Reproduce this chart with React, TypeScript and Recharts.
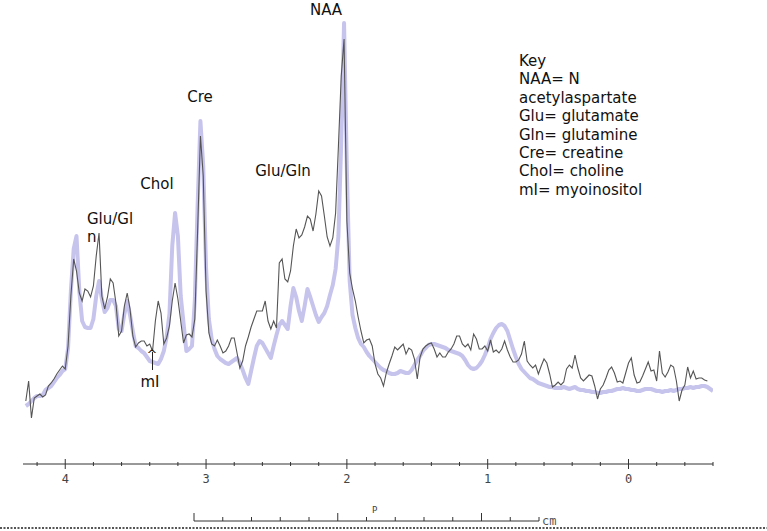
import { LineChart, Line, XAxis, YAxis } from "recharts";

// chemical shift grid (ppm)
const ppm = [
  4.28, 4.26, 4.24, 4.22, 4.2, 4.18, 4.16, 4.14, 4.12, 4.1,
  4.08, 4.06, 4.04, 4.02, 4.0, 3.98, 3.96, 3.94, 3.92, 3.9,
  3.88, 3.86, 3.84, 3.82, 3.8, 3.78, 3.76, 3.74, 3.72, 3.7,
  3.68, 3.66, 3.64, 3.62, 3.6, 3.58, 3.56, 3.54, 3.52, 3.5,
  3.48, 3.46, 3.44, 3.42, 3.4, 3.38, 3.36, 3.34, 3.32, 3.3,
  3.28, 3.26, 3.24, 3.22, 3.2, 3.18, 3.16, 3.14, 3.12, 3.1,
  3.08, 3.06, 3.04, 3.02, 3.0, 2.98, 2.96, 2.94, 2.92, 2.9,
  2.88, 2.86, 2.84, 2.82, 2.8, 2.78, 2.76, 2.74, 2.72, 2.7,
  2.68, 2.66, 2.64, 2.62, 2.6, 2.58, 2.56, 2.54, 2.52, 2.5,
  2.48, 2.46, 2.44, 2.42, 2.4, 2.38, 2.36, 2.34, 2.32, 2.3,
  2.28, 2.26, 2.24, 2.22, 2.2, 2.18, 2.16, 2.14, 2.12, 2.1,
  2.08, 2.06, 2.04, 2.02, 2.0, 1.98, 1.96, 1.94, 1.92, 1.9,
  1.88, 1.86, 1.84, 1.82, 1.8, 1.78, 1.76, 1.74, 1.72, 1.7,
  1.68, 1.66, 1.64, 1.62, 1.6, 1.58, 1.56, 1.54, 1.52, 1.5,
  1.48, 1.46, 1.44, 1.42, 1.4, 1.38, 1.36, 1.34, 1.32, 1.3,
  1.28, 1.26, 1.24, 1.22, 1.2, 1.18, 1.16, 1.14, 1.12, 1.1,
  1.08, 1.06, 1.04, 1.02, 1.0, 0.98, 0.96, 0.94, 0.92, 0.9,
  0.88, 0.86, 0.84, 0.82, 0.8, 0.78, 0.76, 0.74, 0.72, 0.7,
  0.68, 0.66, 0.64, 0.62, 0.6, 0.58, 0.56, 0.54, 0.52, 0.5,
  0.48, 0.46, 0.44, 0.42, 0.4, 0.38, 0.36, 0.34, 0.32, 0.3,
  0.28, 0.26, 0.24, 0.22, 0.2, 0.18, 0.16, 0.14, 0.12, 0.1,
  0.08, 0.06, 0.04, 0.02, 0, -0.02, -0.04, -0.06, -0.08, -0.1,
  -0.12, -0.14, -0.16, -0.18, -0.2, -0.22, -0.24, -0.26, -0.28, -0.3,
  -0.32, -0.34, -0.36, -0.38, -0.4, -0.42, -0.44, -0.46, -0.48, -0.5,
  -0.52, -0.54, -0.56, -0.58, -0.6,
];

// noisy patient spectrum (dark grey)
const patient = [
  63, 83, 46, 66, 68, 70, 67, 69, 78, 81,
  85, 90, 94, 98, 95, 118, 168, 205, 193, 171,
  163, 175, 173, 167, 178, 208, 231, 168, 155, 167,
  185, 181, 161, 128, 133, 158, 171, 155, 128, 117,
  121, 123, 123, 118, 120, 113, 143, 163, 151, 120,
  126, 138, 163, 181, 165, 143, 121, 129, 130, 127,
  145, 233, 328, 288, 173, 131, 120, 118, 124, 118,
  111, 113, 118, 126, 126, 111, 96, 103, 118, 127,
  137, 145, 153, 153, 153, 163, 143, 135, 143, 136,
  201, 205, 185, 182, 193, 218, 235, 226, 229, 237,
  248, 245, 233, 250, 273, 268, 248, 227, 218, 226,
  251, 318, 388, 425, 243, 191, 175, 163, 147, 133,
  121, 124, 125, 118, 100, 90, 86, 78, 91, 100,
  108, 117, 114, 117, 120, 110, 116, 114, 105, 85,
  107, 115, 118, 120, 121, 115, 107, 111, 107, 107,
  112, 115, 120, 128, 128, 120, 117, 120, 114, 130,
  125, 115, 115, 118, 113, 124, 112, 114, 111, 115,
  123, 114, 107, 102, 102, 104, 110, 123, 103, 99,
  96, 99, 90, 98, 105, 101, 90, 77, 79, 82,
  79, 82, 95, 99, 96, 109, 96, 86, 83, 86,
  89, 88, 78, 65, 75, 79, 86, 94, 97, 91,
  82, 83, 81, 91, 101, 106, 89, 81, 82, 88,
  95, 102, 93, 94, 83, 113, 91, 87, 92, 99,
  97, 83, 63, 74, 79, 97, 86, 93, 85, 86,
  86, 84, 83,
];

// smooth reference spectrum (lavender)
const reference = [
  58, 60, 63, 66, 68, 68, 69, 74, 76, 78,
  82, 86, 89, 93, 95, 116, 173, 215, 228, 173,
  143, 137, 136, 136, 145, 168, 183, 165, 152, 156,
  164, 164, 158, 135, 133, 150, 163, 149, 133, 118,
  116, 113, 111, 107, 103, 102, 101, 100, 105, 113,
  127, 150, 218, 251, 228, 168, 141, 113, 115, 118,
  163, 258, 343, 298, 196, 145, 125, 115, 108, 105,
  103, 101, 100, 102, 104, 106, 101, 94, 86, 80,
  93, 106, 118, 123, 121, 116, 111, 106, 118, 129,
  139, 143, 139, 135, 158, 176, 167, 153, 143, 158,
  175, 167, 158, 149, 142, 147, 151, 158, 169, 179,
  195, 228, 323, 441, 293, 183, 149, 136, 126, 120,
  117, 112, 108, 105, 102, 99, 96, 94, 93, 91,
  90, 90, 91, 93, 92, 91, 91, 94, 99, 104,
  108, 113, 116, 119, 120, 120, 119, 118, 117, 116,
  114, 113, 112, 111, 110, 108, 104, 99, 96, 95,
  96, 99, 103, 109, 116, 125, 131, 136, 139, 140,
  138, 133, 124, 115, 107, 100, 95, 92, 89, 86,
  85, 83, 81, 80, 79, 78, 77, 77, 76, 76,
  76, 77, 76, 75, 76, 77, 75, 74, 74, 73,
  73, 72, 72, 71, 71, 72, 72, 73, 73, 74,
  75, 75, 76, 75, 75, 74, 74, 73, 73, 74,
  75, 75, 75, 74, 73, 73, 72, 73, 73, 74,
  73, 74, 75, 75, 76, 76, 77, 76, 77, 77,
  78, 78, 77, 75, 73,
];

const ppmTicks = [
  4.2, 4, 3.8, 3.6, 3.4, 3.2, 3, 2.8, 2.6, 2.4, 2.2, 2, 1.8, 1.6, 1.4,
  1.2, 1, 0.8, 0.6, 0.4, 0.2, 0, -0.2, -0.4, -0.6,
];

const keyLines = [
  "Key",
  "NAA= N",
  "acetylaspartate",
  "Glu= glutamate",
  "Gln= glutamine",
  "Cre= creatine",
  "Chol= choline",
  "mI= myoinositol",
];

const data = ppm.map((p, i) => ({
  ppm: p,
  patient: patient[i] ?? null,
  reference: reference[i] ?? null,
}));

const FONT = "'DejaVu Sans', sans-serif";

function PpmTick(props: any) {
  const { x, y, payload } = props;
  const major = Number.isInteger(payload.value);
  const h = major ? 5 : 2;
  return (
    <g>
      <line x1={x} x2={x} y1={y - h} y2={y + h} stroke="#333" />
      {major && (
        <text
          x={x}
          y={y + 19}
          textAnchor="middle"
          fontFamily="'DejaVu Sans Mono', monospace"
          fontSize={12}
          fill="#444"
        >
          {payload.value}
        </text>
      )}
    </g>
  );
}

function Annotations() {
  const barTicks = [0, 1, 2, 3, 4, 5, 6, 7, 8, 9, 10, 11, 12];
  return (
    <svg
      width={767}
      height={531}
      style={{ position: "absolute", left: 0, top: 0, pointerEvents: "none" }}
    >
      <g fontFamily={FONT} fontSize={15} fill="#111">
        <text x={326} y={15} textAnchor="middle">NAA</text>
        <text x={200} y={102} textAnchor="middle">Cre</text>
        <text x={157} y={189} textAnchor="middle">Chol</text>
        <text x={283} y={176} textAnchor="middle">Glu/Gln</text>
        <text x={87} y={224}>Glu/Gl</text>
        <text x={87} y={242}>n</text>
        <text x={150} y={387} textAnchor="middle">mI</text>
        <text x={152} y={359} textAnchor="middle" fontSize={13}>^</text>
        <line x1={152.5} x2={152.5} y1={352} y2={370} stroke="#222" />
        {keyLines.map((t, i) => (
          <text key={t} x={519} y={66 + i * 18.4}>{t}</text>
        ))}
      </g>
      {/* scale bar */}
      <line x1={194} x2={539} y1={521} y2={521} stroke="#333" />
      {barTicks.map((k) => (
        <line
          key={k}
          x1={194 + k * 28.75}
          x2={194 + k * 28.75}
          y1={k % 5 === 0 ? 513 : 517}
          y2={521}
          stroke="#333"
        />
      ))}
      <text x={372} y={513} fontFamily="'DejaVu Sans Mono', monospace" fontSize={9} fill="#444">P</text>
      <text x={542} y={525} fontFamily="'DejaVu Sans Mono', monospace" fontSize={12} fill="#555">cm</text>
      <line x1={0} x2={767} y1={528} y2={528} stroke="#555" strokeWidth={2} strokeDasharray="2 1.5" />
    </svg>
  );
}

export default function App() {
  return (
    <div
      style={{
        position: "absolute",
        left: 0,
        top: 0,
        width: 767,
        height: 531,
        background: "#fff",
      }}
    >
      <LineChart
        width={767}
        height={531}
        data={data}
        margin={{ top: 0, right: 54, left: 23, bottom: 7 }}
      >
        <XAxis
          dataKey="ppm"
          type="number"
          domain={[-0.6, 4.3]}
          reversed
          allowDataOverflow
          ticks={ppmTicks}
          interval={0}
          tickLine={false}
          tickSize={0}
          tickMargin={0}
          height={60}
          axisLine={{ stroke: "#333" }}
          tick={<PpmTick />}
        />
        <YAxis hide domain={[0, 464]} allowDataOverflow />
        <Line
          dataKey="reference"
          type="linear"
          stroke="#c6c4ec"
          strokeWidth={4}
          strokeLinejoin="round"
          dot={false}
          isAnimationActive={false}
        />
        <Line
          dataKey="patient"
          type="linear"
          stroke="#555"
          strokeWidth={1.1}
          dot={false}
          isAnimationActive={false}
        />
      </LineChart>
      <Annotations />
    </div>
  );
}
